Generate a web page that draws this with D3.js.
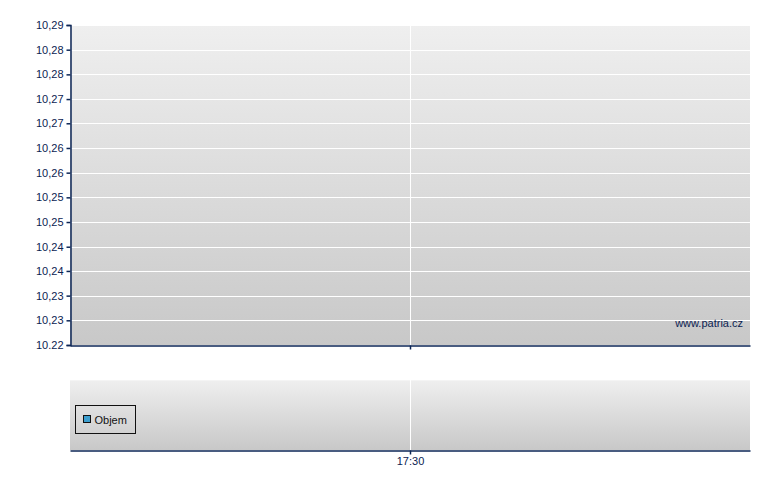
<!DOCTYPE html>
<html>
<head>
<meta charset="utf-8">
<script src="https://cdn.jsdelivr.net/npm/d3@7"></script>
<style>
    body { margin: 0; background: #fff; }
    svg text { font-family: "Liberation Sans", Arial, sans-serif; font-size: 11px; fill: #0c2352; }
</style>
</head>
<body>
<div id="chart"></div>
<script>
// price axis (13 equal steps between 10.22 and 10.29)
const yTicks = [10.22, 10.2254, 10.2308, 10.2362, 10.2415, 10.2469, 10.2523, 10.2577, 10.2631, 10.2685, 10.2738, 10.2792, 10.2846, 10.29];
const yTickLabels = ['10.22', '10,23', '10,23', '10,24', '10,24', '10,25', '10,25', '10,26', '10,26', '10,27', '10,27', '10,28', '10,28', '10,29'];
// time axis
const timeDomain = ['17:00', '18:00'];
const timeTicks = ['17:30'];
// volume series - no trades
const volumeSeries = [];
const legendLabels = ['Objem'];

const width = 780, height = 490;
const axisColor = '#0c2656';
const parseTime = d3.timeParse('%H:%M');

const svg = d3.select('#chart').append('svg')
    .attr('width', width)
    .attr('height', height);

const defs = svg.append('defs');
const grad = defs.append('linearGradient')
    .attr('id', 'bg')
    .attr('x1', 0).attr('y1', 0).attr('x2', 0).attr('y2', 1);
grad.append('stop').attr('offset', '0%').attr('stop-color', '#efefef');
grad.append('stop').attr('offset', '100%').attr('stop-color', '#c8c8c8');

const x = d3.scaleTime()
    .domain(timeDomain.map(parseTime))
    .range([70, 750]);

const y = d3.scaleLinear()
    .domain([10.22, 10.29])
    .range([345, 25]);

// main panel
svg.append('rect')
    .attr('x', 70).attr('y', 25)
    .attr('width', 680).attr('height', 320)
    .attr('fill', 'url(#bg)');

svg.append('g')
    .selectAll('line')
    .data(yTicks.slice(1))
    .join('line')
    .attr('x1', 70).attr('x2', 750)
    .attr('y1', d => Math.round(y(d)) + 0.5)
    .attr('y2', d => Math.round(y(d)) + 0.5)
    .attr('stroke', '#fff');

svg.append('line')
    .attr('x1', Math.round(x(parseTime(timeTicks[0]))) + 0.5)
    .attr('x2', Math.round(x(parseTime(timeTicks[0]))) + 0.5)
    .attr('y1', 25).attr('y2', 345)
    .attr('stroke', '#fff');

svg.append('text')
    .attr('x', 743).attr('y', 327)
    .attr('text-anchor', 'end')
    .text('www.patria.cz');

const yAxis = svg.append('g')
    .attr('transform', 'translate(70.5,0)')
    .call(d3.axisLeft(y)
        .tickValues(yTicks)
        .tickFormat((d, i) => yTickLabels[i])
        .tickSize(4)
        .tickPadding(3));
yAxis.select('.domain').attr('stroke', axisColor).attr('stroke-width', 1.5);
yAxis.selectAll('.tick line').attr('stroke', axisColor).attr('stroke-width', 1.5);
yAxis.selectAll('.tick text').attr('fill', axisColor).style('font-size', '11px')
    .style('font-family', '"Liberation Sans", Arial, sans-serif');

const xAxisTop = svg.append('g')
    .attr('transform', 'translate(0,345.5)')
    .call(d3.axisBottom(x)
        .tickValues(timeTicks.map(parseTime))
        .tickFormat('')
        .tickSize(4)
        .tickSizeOuter(0));
xAxisTop.select('.domain').attr('stroke', axisColor).attr('stroke-width', 1.5);
xAxisTop.selectAll('.tick line').attr('stroke', axisColor).attr('stroke-width', 1.5);

// volume panel
svg.append('rect')
    .attr('x', 70).attr('y', 380)
    .attr('width', 680).attr('height', 70)
    .attr('fill', 'url(#bg)');

svg.append('line')
    .attr('x1', 70).attr('x2', 750)
    .attr('y1', 380.5).attr('y2', 380.5)
    .attr('stroke', '#f4f4f4');

svg.append('line')
    .attr('x1', Math.round(x(parseTime(timeTicks[0]))) + 0.5)
    .attr('x2', Math.round(x(parseTime(timeTicks[0]))) + 0.5)
    .attr('y1', 380).attr('y2', 450)
    .attr('stroke', '#fff');

const xAxis = svg.append('g')
    .attr('transform', 'translate(0,450.5)')
    .call(d3.axisBottom(x)
        .tickValues(timeTicks.map(parseTime))
        .tickFormat(d3.timeFormat('%H:%M'))
        .tickSize(4)
        .tickSizeOuter(0)
        .tickPadding(3));
xAxis.select('.domain').attr('stroke', axisColor).attr('stroke-width', 1.5);
xAxis.selectAll('.tick line').attr('stroke', axisColor).attr('stroke-width', 1.5);
xAxis.selectAll('.tick text').attr('fill', axisColor).style('font-size', '11px')
    .style('font-family', '"Liberation Sans", Arial, sans-serif');

// legend
const legend = svg.append('g').attr('transform', 'translate(75.5,405.5)');
legend.append('rect')
    .attr('width', 60).attr('height', 28)
    .attr('fill', 'none')
    .attr('stroke', '#111');
legend.append('rect')
    .attr('x', 8).attr('y', 10)
    .attr('width', 7).attr('height', 7)
    .attr('fill', '#3d9fcf')
    .attr('stroke', '#111');
legend.append('text')
    .attr('x', 19).attr('y', 18)
    .style('fill', '#111')
    .text(legendLabels[0]);
</script>
</body>
</html>
